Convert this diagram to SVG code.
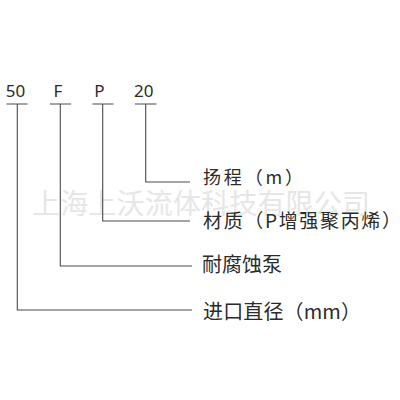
<svg xmlns="http://www.w3.org/2000/svg" width="400" height="400" viewBox="0 0 400 400">
  <style>
    .code { font-family: "Noto Sans", "Liberation Sans", sans-serif; font-size: 17px; fill: #2b2b2b; text-anchor: middle; }
    .lbl { font-family: "Noto Sans CJK SC", "Noto Sans", sans-serif; fill: #2b2b2b; }
    .wm { font-family: "Noto Sans CJK SC", sans-serif; font-size: 28px; fill: #e6e6e6; }
    .ln { stroke: #4a4a4a; stroke-width: 1.1; fill: none; }
  </style>
  <rect width="400" height="400" fill="#ffffff"/>
  <text class="wm" x="32" y="214" textLength="338" lengthAdjust="spacing">上海上沃流体科技有限公司</text>
  <g id="connectors">
    <path class="ln" d="M6.5 104 H27.5 M17.3 104 V310 H192"/>
    <path class="ln" d="M50 104 H71 M60.3 104 V266 H192"/>
    <path class="ln" d="M92.5 104 H113.5 M102.7 104 V221 H190"/>
    <path class="ln" d="M135 104 H156.5 M145.7 104 V182 H190"/>
  </g>
  <g id="code-50"><text class="code" x="15.5" y="96.7">50</text></g>
  <g id="code-F"><text class="code" x="58" y="96.7">F</text></g>
  <g id="code-P"><text class="code" x="99.5" y="96.7">P</text></g>
  <g id="code-20"><text class="code" x="143.7" y="96.7">20</text></g>
  <g id="label-head"><text class="lbl" x="203" y="184" font-size="18" textLength="100" lengthAdjust="spacing">扬程（m）</text></g>
  <g id="label-material"><text class="lbl" x="203" y="227.5" font-size="19" textLength="198" lengthAdjust="spacing">材质（P增强聚丙烯）</text></g>
  <g id="label-type"><text class="lbl" x="202" y="271.5" font-size="20">耐腐蚀泵</text></g>
  <g id="label-diameter"><text class="lbl" x="203" y="319" font-size="20" textLength="158" lengthAdjust="spacing">进口直径（mm）</text></g>
</svg>
